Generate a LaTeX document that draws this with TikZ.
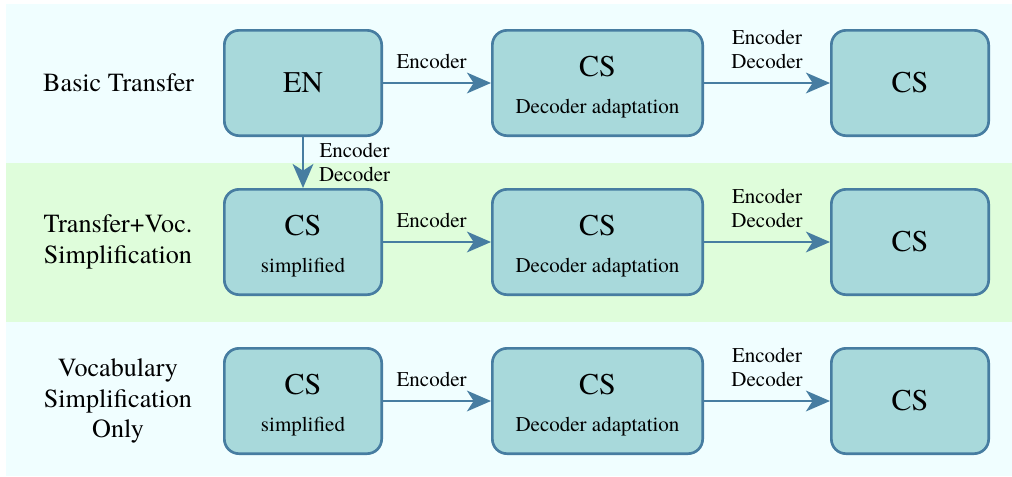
\documentclass[tikz,border=0pt]{standalone}
\usepackage{fontspec}
\setmainfont{texgyretermes}[Extension=.otf, UprightFont=*-regular, BoldFont=*-bold, ItalicFont=*-italic]
\usepackage{tikz}
\usetikzlibrary{arrows.meta}
\usetikzlibrary{positioning}

\definecolor{bandcyan}{HTML}{F0FEFF}
\definecolor{bandgreen}{HTML}{DFFDDB}
\definecolor{boxfill}{HTML}{A8D9DB}
\definecolor{boxline}{HTML}{477DA1}

\newcommand{\subfont}{\fontsize{15.75}{18}\selectfont}
\newcommand{\twoline}[2]{\rule{0pt}{21.5pt}#1\\[1pt]{\subfont #2}}

\begin{document}
\begin{tikzpicture}[box/.style={rectangle, rounded corners=11pt, draw=boxline, fill=boxfill, line width=2pt, minimum width=118pt, minimum height=79pt, align=center, font=\rmfamily\fontsize{22.5}{27}\selectfont},
    widebox/.style={box, minimum width=157.75pt},
    rowlabel/.style={align=center, font=\rmfamily\fontsize{19.6}{23}\selectfont},
    edgelabel/.style={align=center, inner sep=2pt, font=\rmfamily\fontsize{15.75}{17.5}\selectfont},
    flow/.style={->, draw=boxline, line width=2pt},
    >={Stealth[length=18pt, width=15.5pt, inset=5pt]}]
        \useasboundingbox (0,0) rectangle (759pt,-357pt);
        % background bands
        \fill[bandcyan] (4.5pt,-3pt) rectangle (759pt,-122.25pt);
        \fill[bandgreen] (4.5pt,-122.25pt) rectangle (759pt,-241.5pt);
        \fill[bandcyan] (4.5pt,-241.5pt) rectangle (759pt,-357pt);

        \node[rowlabel] (basic) at (89pt,-62.25pt) {Basic Transfer};
        \node[rowlabel] (transfer) at (88.5pt,-181.5pt) {Transfer+Voc.\\Simplification};
        \node[rowlabel] (vocab) at (88.5pt,-300.75pt) {Vocabulary\\Simplification\\Only};

        \node[box] (en) at (227.25pt,-62.25pt) {EN};
        \node[widebox] (dec1) [right=81pt of en] {\twoline{CS}{Decoder adaptation}};
        \node[box] (out1) [right=94.5pt of dec1] {CS};

        \node[box] (simp2) [below=38.25pt of en] {\twoline{CS}{simplified}};
        \node[widebox] (dec2) [right=81pt of simp2] {\twoline{CS}{Decoder adaptation}};
        \node[box] (out2) [right=94.5pt of dec2] {CS};

        \node[box] (simp3) [below=38.25pt of simp2] {\twoline{CS}{simplified}};
        \node[widebox] (dec3) [right=81pt of simp3] {\twoline{CS}{Decoder adaptation}};
        \node[box] (out3) [right=94.5pt of dec3] {CS};

        \draw[flow] (en) -- node[edgelabel, pos=0.45, above=8pt] {Encoder} (dec1);
        \draw[flow] (dec1) -- node[edgelabel, above=8pt] {Encoder\\Decoder} (out1);
        \draw[flow] (en) -- node[edgelabel, right=9pt] {Encoder\\Decoder} (simp2);
        \draw[flow] (simp2) -- node[edgelabel, pos=0.45, above=8pt] {Encoder} (dec2);
        \draw[flow] (dec2) -- node[edgelabel, above=8pt] {Encoder\\Decoder} (out2);
        \draw[flow] (simp3) -- node[edgelabel, pos=0.45, above=8pt] {Encoder} (dec3);
        \draw[flow] (dec3) -- node[edgelabel, above=8pt] {Encoder\\Decoder} (out3);
    \end{tikzpicture}
\end{document}
